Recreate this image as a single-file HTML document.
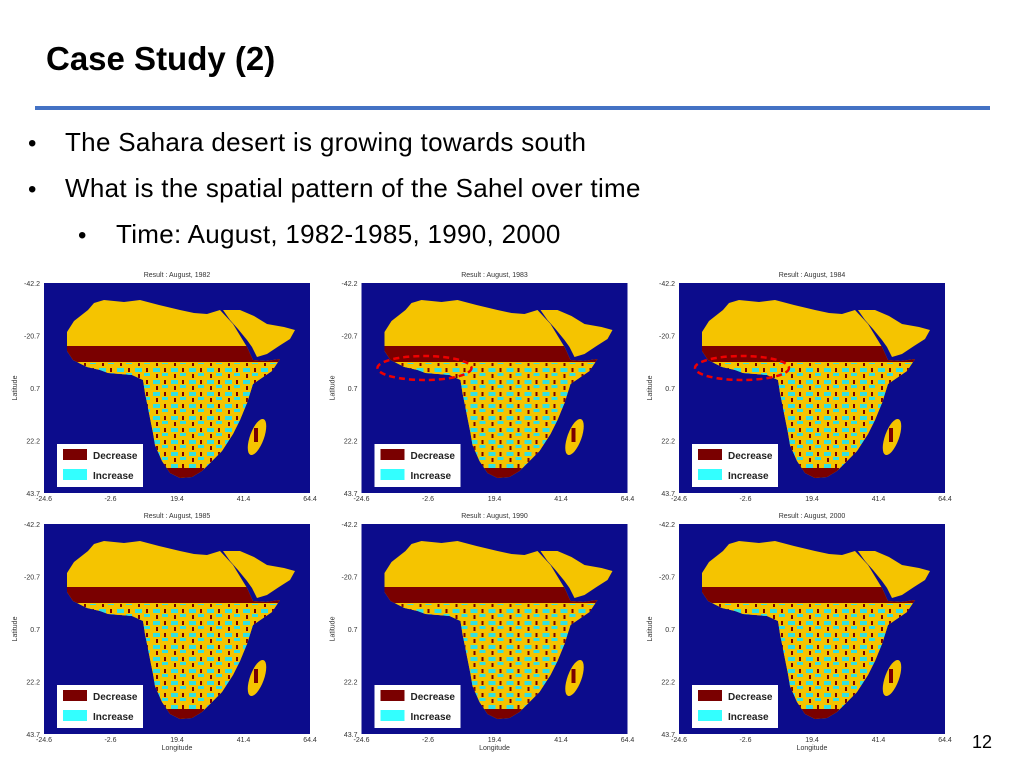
<!DOCTYPE html>
<html><head><meta charset="utf-8">
<style>
body{margin:0;width:1024px;height:768px;background:#fff;position:relative;overflow:hidden;font-family:"Liberation Sans",sans-serif}
.t{position:absolute;white-space:nowrap;color:#000}
</style></head>
<body>
<div class="t" style="left:46px;top:40px;font-size:33px;font-weight:bold">Case Study (2)</div>
<div style="position:absolute;left:35px;top:106px;width:955px;height:4px;background:#4472C4"></div>
<div class="t" style="left:28px;top:127px;font-size:26px"><span style="font-size:24px">•</span><span style="position:absolute;left:37px;letter-spacing:0.3px">The Sahara desert is growing towards south</span></div>
<div class="t" style="left:28px;top:173px;font-size:26px"><span style="font-size:24px">•</span><span style="position:absolute;left:37px;letter-spacing:0.3px">What is the spatial pattern of the Sahel over time</span></div>
<div class="t" style="left:78px;top:219px;font-size:26px"><span style="font-size:24px">•</span><span style="position:absolute;left:38px;letter-spacing:0.3px">Time: August, 1982-1985, 1990, 2000</span></div>
<div class="t" style="left:972px;top:732px;font-size:18px">12</div>
<svg id="maps" width="1024" height="768" style="position:absolute;left:0;top:0"></svg>
<script>
const years=["1982","1983","1984","1985","1990","2000"];
const xTicks=["-24.6","-2.6","19.4","41.4","64.4"];
const yTicks=["-42.2","-20.7","0.7","22.2","43.7"];
const circled=[false,true,true,false,false,false];
const NS="http://www.w3.org/2000/svg";
const svg=document.getElementById('maps');
function mk(t,a,p){const e=document.createElementNS(NS,t);for(const k in a)e.setAttribute(k,a[k]);(p||svg).appendChild(e);return e;}
const africa="M23,49 L30,38 L44,27 L50,20 L60,17 L80,19 L96,17 L115,22 L136,27 L150,30 L163,31 L176,27 L189,41 L203,64 L209,77 L222,78 L236,76 L228,88 L209,101 L203,120 L196,137 L189,151 L178,168 L169,177 L158,188 L148,194 L136,195 L126,190 L118,178 L111,162 L109,150 L105,130 L101,110 L99,97 L88,92 L76,91 L64,90 L56,87 L43,84 L29,77 L23,68 Z";
const arabia="M179,27 L196,27 L210,33 L223,41 L240,44 L251,47 L246,56 L235,63 L223,71 L213,74 L208,64 L203,57 L194,46 L186,37 Z";
const defs=mk('defs',{});
const pat=mk('pattern',{id:'spk',width:18,height:12,patternUnits:'userSpaceOnUse'},defs);
mk('rect',{width:18,height:12,fill:'#f5c400'},pat);
mk('rect',{x:1,y:1,width:7,height:4,fill:'#33e0e0'},pat);
mk('rect',{x:10,y:6,width:6,height:3,fill:'#33e0e0'},pat);
mk('rect',{x:12,y:1,width:2,height:4,fill:'#7a0000'},pat);
mk('rect',{x:4,y:7,width:2,height:4,fill:'#7a0000'},pat);
const cp=mk('clipPath',{id:'afr'},defs);
mk('path',{d:africa},cp);
years.forEach((yr,i)=>{
  const px=44+(i%3)*317.5, py=283+Math.floor(i/3)*241, W=266,H=210;
  const g=mk('g',{transform:`translate(${px},${py})`});
  
  
  const ttl=mk('text',{x:W/2,y:-6,'text-anchor':'middle','font-size':7,fill:'#333'},g);ttl.textContent='Result :  August, '+yr;
  
  
  mk('rect',{x:0,y:0,width:W,height:H,fill:'#0c0c8c'},g);
  mk('path',{d:africa,fill:'#f5c400'},g);
  mk('path',{d:arabia,fill:'#f5c400'},g);
  const cg=mk('g',{'clip-path':'url(#afr)'},g);
  mk('rect',{x:0,y:80,width:W,height:105,fill:'url(#spk)'},cg);
  mk('rect',{x:0,y:63,width:W,height:16,fill:'#7a0000'},cg);
  mk('rect',{x:100,y:185,width:60,height:12,fill:'#7a0000'},cg);
  mk('ellipse',{cx:213,cy:154,rx:7,ry:19,transform:'rotate(20 213 154)',fill:'#f5c400'},g);
  mk('rect',{x:210,y:145,width:4,height:14,fill:'#7a0000'},g);
  const lg=mk('g',{},g);
  
  
  mk('rect',{x:13,y:161,width:86,height:43,fill:'#fff'},lg);
  mk('rect',{x:19,y:166,width:24,height:11,fill:'#7a0000'},lg);
  mk('rect',{x:19,y:186,width:24,height:11,fill:'#33ffff'},lg);
  const d=mk('text',{x:49,y:176,'font-size':10,'font-weight':'bold',fill:'#222'},lg);d.textContent='Decrease';
  const n=mk('text',{x:49,y:196,'font-size':10,'font-weight':'bold',fill:'#222'},lg);n.textContent='Increase';
  xTicks.forEach((t,k)=>{const e=mk('text',{x:k*W/4,y:H+8,'text-anchor':'middle','font-size':7,fill:'#333'},g);e.textContent=t;});
  yTicks.forEach((t,k)=>{const e=mk('text',{x:-4,y:k*H/4+3,'text-anchor':'end','font-size':7,fill:'#333'},g);e.textContent=t;});
  const yl=mk('text',{x:0,y:0,transform:`translate(-27,${H/2}) rotate(-90)`,'text-anchor':'middle','font-size':7,fill:'#333'},g);yl.textContent='Latitude';
  if(i>=3){const xl=mk('text',{x:W/2,y:H+16,'text-anchor':'middle','font-size':7,fill:'#333'},g);xl.textContent='Longitude';}
  if(circled[i]){const el=mk('ellipse',{cx:63,cy:85,rx:47,ry:12,fill:'none',stroke:'#e00','stroke-width':2.5,'stroke-dasharray':'6 4'},g);
    
    }
});
</script>
</body></html>
